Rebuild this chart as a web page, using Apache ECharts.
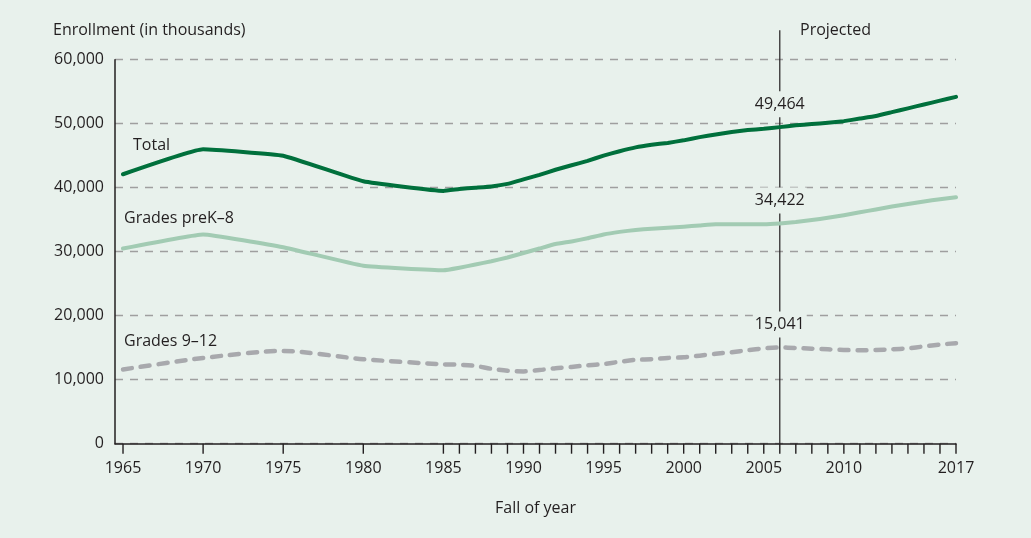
<!DOCTYPE html>
<html>
<head>
<meta charset="utf-8">
<script src="https://cdn.jsdelivr.net/npm/echarts@6/dist/echarts.min.js"></script>
<style>
  html, body { margin: 0; padding: 0; background: #e8f1ec; }
  #chart { width: 1031px; height: 538px; }
</style>
</head>
<body>
<div id="chart"></div>
<script>
// Fall of year (5-year steps until 1985, then yearly)
const years = [1965, 1970, 1975, 1980, 1985, 1986, 1987, 1988, 1989, 1990, 1991, 1992, 1993, 1994,
  1995, 1996, 1997, 1998, 1999, 2000, 2001, 2002, 2003, 2004, 2005, 2006, 2007, 2008, 2009, 2010,
  2011, 2012, 2013, 2014, 2015, 2016, 2017];

// Enrollment in thousands
const total = [42100, 46000, 45000, 41000, 39500, 39800, 40000, 40200, 40600, 41300, 42000, 42800,
  43500, 44200, 45000, 45700, 46300, 46700, 47000, 47400, 47900, 48300, 48700, 49000, 49200, 49464,
  49750, 49950, 50150, 50400, 50800, 51200, 51800, 52400, 53000, 53600, 54200];
const preK8 = [30500, 32700, 30700, 27800, 27100, 27500, 28000, 28500, 29100, 29800, 30500, 31200,
  31600, 32100, 32700, 33100, 33400, 33600, 33750, 33900, 34100, 34300, 34300, 34300, 34300, 34422,
  34650, 34950, 35300, 35700, 36150, 36600, 37050, 37450, 37850, 38200, 38500];
const grades912 = [11600, 13400, 14500, 13200, 12400, 12350, 12150, 11700, 11400, 11300, 11500, 11800,
  12000, 12250, 12450, 12800, 13100, 13200, 13400, 13500, 13750, 14050, 14300, 14600, 14900, 15041,
  14950, 14850, 14750, 14650, 14600, 14650, 14750, 14900, 15200, 15500, 15700];

const tickYears = years;
const labelYears = [1965, 1970, 1975, 1980, 1985, 1990, 1995, 2000, 2005, 2010, 2017];

const projectedYear = 2006;
const projectedTop = 64600;

const bg = '#e8f1ec';
const ink = '#231f20';
const font = '"Open Sans", sans-serif';

const pairs = (vals) => years.map((y, i) => [y, vals[i]]);

// series name at the left end + value label at the projection line
const marks = (name, vals, dx, dy) => {
  const k = years.indexOf(projectedYear);
  return {
    silent: true,
    symbolSize: 0,
    data: [
      {
        coord: [years[0], vals[0]],
        label: { position: 'right', distance: 0, offset: [dx, dy], formatter: name }
      },
      {
        coord: [projectedYear, vals[k]],
        label: {
          position: 'top', distance: 10, padding: [5, 2], backgroundColor: bg,
          formatter: vals[k].toLocaleString('en-US')
        }
      }
    ],
    label: { show: true, color: ink, fontSize: 16, fontFamily: font }
  };
};

const chart = echarts.init(document.getElementById('chart'), null, { renderer: 'canvas' });

const option = {
  backgroundColor: bg,
  animation: false,
  grid: { left: 115, right: 75, top: 59.7, bottom: 94.3 },
  textStyle: { fontFamily: font },
  xAxis: {
    type: 'value',
    min: 1964.5,
    max: years[years.length - 1],
    name: 'Fall of year',
    nameLocation: 'middle',
    nameGap: 57,
    nameTextStyle: { color: ink, fontSize: 16, fontFamily: font },
    axisLine: { show: true, onZero: false, lineStyle: { color: ink, width: 1.5 } },
    axisTick: { show: false },
    axisLabel: {
      customValues: labelYears, margin: 17, color: ink, fontSize: 16, fontFamily: font,
      formatter: (v) => String(v)
    },
    splitLine: { show: false }
  },
  yAxis: {
    type: 'value',
    min: 0,
    max: 60000,
    interval: 10000,
    axisLine: { show: true, lineStyle: { color: ink, width: 1.5 } },
    axisTick: { show: false },
    axisLabel: { margin: 11, color: ink, fontSize: 16, fontFamily: font },
    splitLine: { show: true, lineStyle: { color: '#9f9f9f', width: 1.3, type: [8, 7] } }
  },
  graphic: [
    { type: 'text', left: 53, top: 22, style: { text: 'Enrollment (in thousands)', fill: ink, font: '16px "Open Sans"' } },
    { type: 'text', left: 800, top: 22, style: { text: 'Projected', fill: ink, font: '16px "Open Sans"' } }
  ],
  series: [
    {
      // x-axis ticks: every 5 years until 1985, then yearly
      name: 'ticks',
      type: 'custom',
      z: 4,
      silent: true,
      clip: false,
      data: tickYears.map((y) => [y, 0]),
      encode: { x: 0, y: 1 },
      renderItem: (params, api) => {
        const p = api.coord([api.value(0), api.value(1)]);
        return {
          type: 'line',
          shape: { x1: p[0], y1: p[1], x2: p[0], y2: p[1] + 10 },
          style: { stroke: ink, lineWidth: 1.4 }
        };
      }
    },
    {
      name: 'projection',
      type: 'custom',
      z: 1,
      silent: true,
      clip: false,
      data: [[projectedYear, projectedTop]],
      encode: { x: 0, y: 1 },
      renderItem: (params, api) => {
        const p0 = api.coord([api.value(0), 0]);
        const p1 = api.coord([api.value(0), api.value(1)]);
        return {
          type: 'line',
          shape: { x1: p0[0], y1: p0[1], x2: p1[0], y2: p1[1] },
          style: { stroke: ink, lineWidth: 1.2 }
        };
      }
    },
    {
      name: 'Total',
      type: 'line',
      data: pairs(total),
      z: 3,
      showSymbol: false,
      smooth: 0.1,
      lineStyle: { color: '#00703c', width: 4, cap: 'round', join: 'round' },
      markPoint: marks('Total', total, 10, -29)
    },
    {
      name: 'Grades preK–8',
      type: 'line',
      data: pairs(preK8),
      z: 3,
      showSymbol: false,
      smooth: 0.1,
      lineStyle: { color: '#a2cbb3', width: 4, cap: 'round', join: 'round' },
      markPoint: marks('Grades preK–8', preK8, 1, -30)
    },
    {
      name: 'Grades 9–12',
      type: 'line',
      data: pairs(grades912),
      z: 3,
      showSymbol: false,
      smooth: 0.25,
      lineStyle: { color: '#a8a9ad', width: 4.5, type: [9, 9], cap: 'round', join: 'round' },
      markPoint: marks('Grades 9–12', grades912, 1, -28)
    }
  ]
};

chart.setOption(option);

window.addEventListener('resize', () => {
  chart.resize();
});
</script>
</body>
</html>
